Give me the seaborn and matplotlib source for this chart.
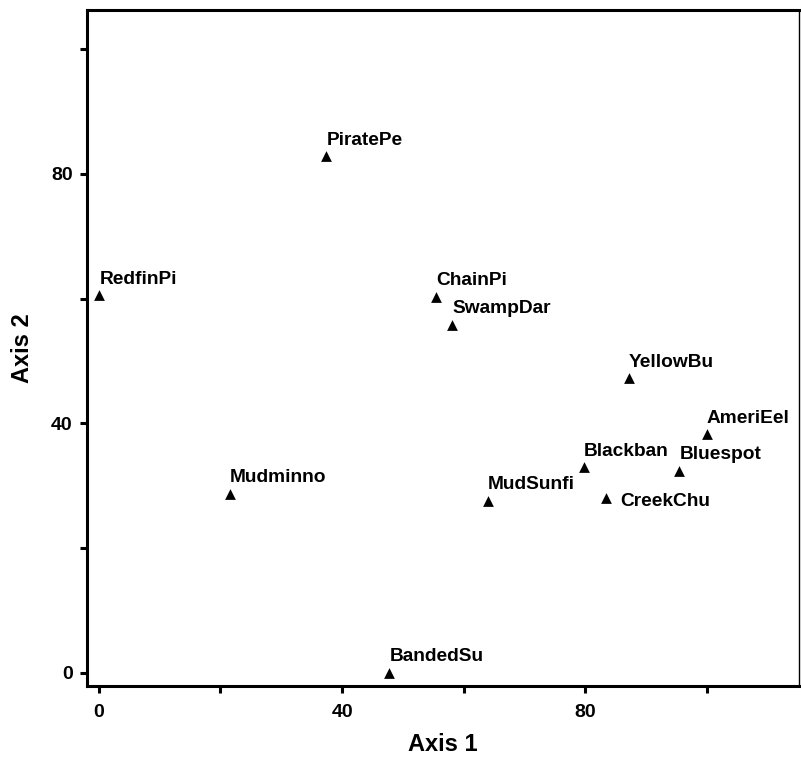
import matplotlib
matplotlib.use("Agg")
import matplotlib.pyplot as plt
from matplotlib.ticker import FixedLocator
import pandas as pd
import seaborn as sns

# Species scores on the first two ordination axes
species = ["RedfinPi", "PiratePe", "ChainPi", "SwampDar", "YellowBu", "AmeriEel",
           "Blackban", "Bluespot", "MudSunfi", "CreekChu", "Mudminno", "BandedSu"]
axis1 = [0.0, 37.4, 55.4, 58.1, 87.1, 99.9, 79.7, 95.4, 63.9, 83.4, 21.5, 47.7]
axis2 = [60.5, 82.8, 60.3, 55.8, 47.2, 38.2, 32.9, 32.4, 27.6, 28.0, 28.7, 0.0]

major_ticks = [0, 40, 80]
minor_ticks = [20, 60, 100]

df = pd.DataFrame({"species": species, "Axis 1": axis1, "Axis 2": axis2})

sns.set_style("ticks")
plt.rcParams["font.family"] = ["Liberation Sans", "DejaVu Sans"]
plt.rcParams["font.weight"] = "bold"
plt.rcParams["text.color"] = "black"
plt.rcParams["axes.labelcolor"] = "black"
plt.rcParams["xtick.color"] = "black"
plt.rcParams["ytick.color"] = "black"
plt.rcParams["axes.edgecolor"] = "black"

fig = plt.figure(figsize=(8.01, 7.61), dpi=100)
ax = fig.add_axes([0.1082, 0.0990, 0.8893, 0.8879])

sns.scatterplot(data=df, x="Axis 1", y="Axis 2", marker="^", color="black",
                s=60, edgecolor="black", linewidth=0, ax=ax, zorder=3)

# Labels: most sit just above their point, CreekChu sits to the right
for name, x, y in zip(df["species"], df["Axis 1"], df["Axis 2"]):
    if name == "CreekChu":
        off = (10.5, -6.0)
    else:
        off = (0.3, 8.3)
    ax.annotate(name, (x, y), xytext=off, textcoords="offset points",
                ha="left", va="baseline", fontsize=13.8, fontweight="bold",
                color="black")

ax.set_xlim(-2.0, 115.1)
ax.set_ylim(-2.1, 106.3)

ax.xaxis.set_major_locator(FixedLocator(major_ticks))
ax.xaxis.set_minor_locator(FixedLocator(minor_ticks))
ax.yaxis.set_major_locator(FixedLocator(major_ticks))
ax.yaxis.set_minor_locator(FixedLocator(minor_ticks))

ax.tick_params(which="both", direction="out", length=5, width=2.2,
               color="black", labelcolor="black")
ax.tick_params(axis="x", which="major", pad=8, labelsize=14)
ax.tick_params(axis="y", which="major", pad=5, labelsize=14)
for lab in ax.get_xticklabels() + ax.get_yticklabels():
    lab.set_fontweight("bold")

for side in ["left", "bottom", "top"]:
    ax.spines[side].set_linewidth(2.2)
    ax.spines[side].set_color("black")
ax.spines["right"].set_linewidth(1.0)
ax.spines["right"].set_color("black")
ax.spines["right"].set_visible(True)
ax.spines["top"].set_visible(True)

ax.set_xlabel("Axis 1", fontsize=17, fontweight="bold", labelpad=9, color="black")
ax.set_ylabel("Axis 2", fontsize=17, fontweight="bold", labelpad=12, color="black")

fig.savefig("out.png", dpi=100, facecolor="white")
